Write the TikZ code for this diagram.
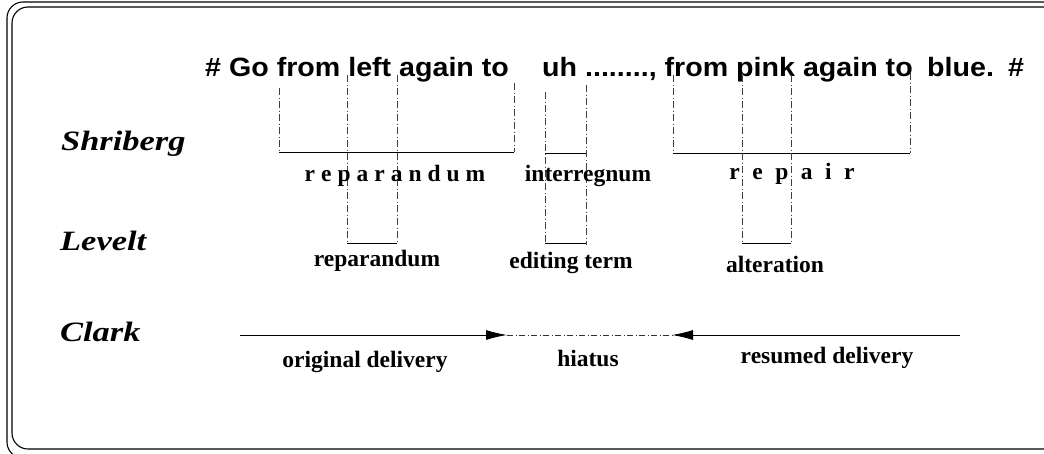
\documentclass[tikz,border=0pt]{standalone}
\usepackage{fontspec}
\setmainfont{Liberation Serif}
\setsansfont{Liberation Sans}
\usetikzlibrary{arrows.meta}

% horizontal stretch of a piece of text
\newcommand{\wide}[2]{\scalebox{#1}[1]{#2}}

\tikzset{
  frame/.style={draw=black, line width=1.1pt, rounded corners=16pt},
  guide/.style={draw=black!75, line width=0.85pt, dash pattern=on 7pt off 2.5pt on 1pt off 2.5pt},
  bar/.style={draw=black, line width=0.9pt},
  sent/.style={font=\sffamily\bfseries\fontsize{26.5}{30}\selectfont, anchor=base west, inner sep=0pt},
  who/.style={font=\bfseries\itshape\fontsize{28}{32}\selectfont, anchor=base west, inner sep=0pt},
  lbl/.style={font=\bfseries\fontsize{23.5}{27}\selectfont, anchor=base, inner sep=0pt},
  flow/.style={draw=black, line width=0.9pt, -{Latex[length=21pt,width=10pt]}},
  pause/.style={draw=black!80, line width=0.85pt, dash pattern=on 6pt off 2.5pt on 1pt off 2.5pt},
}

\begin{document}
\begin{tikzpicture}[x=1pt,y=-1pt]
\useasboundingbox (0,0) rectangle (1044,453);

% double rounded frame
\draw[frame] (7,2) rectangle (1064,458);
\draw[frame] (12,7) rectangle (1059,449);

% the utterance
\node[sent] (s1) at (205,76) {\wide{1.08}{\# Go from left again to}};
\node[sent] (s2) at (542,76) {\wide{1.08}{uh ........, from pink again to}};
\node[sent] (s3) at (927,76) {\wide{1.08}{blue.}};
\node[sent] (s4) at (1008,76) {\wide{1.08}{\#}};

% the three analyses
\node[who] (shr) at (61,150) {\wide{1.23}{Shriberg}};
\node[who] (lev) at (60,250) {\wide{1.23}{Levelt}};
\node[who] (clk) at (60,341) {\wide{1.23}{Clark}};

% Shriberg: reparandum span
\coordinate (rpL) at (279,88);  \coordinate (rpLb) at (279,152);
\coordinate (rpR) at (514,83);  \coordinate (rpRb) at (514,152);
\draw[guide] (rpL) -- (rpLb);
\draw[guide] (rpR) -- (rpRb);
\draw[bar] (rpLb) -- (rpRb);

% Levelt: reparandum span
\coordinate (lvL) at (347,75);  \coordinate (lvLb) at (347,243);
\coordinate (lvR) at (397,75);  \coordinate (lvRb) at (397,243);
\draw[guide] (lvL) -- (lvLb);
\draw[guide] (lvR) -- (lvRb);
\draw[bar] (lvLb) -- (lvRb);

% interregnum / editing term
\coordinate (inL) at (545,92);  \coordinate (inLm) at (545,153); \coordinate (inLb) at (545,243);
\coordinate (inR) at (586,85);  \coordinate (inRm) at (586,153); \coordinate (inRb) at (586,245);
\draw[guide] (inL) -- (inLb);
\draw[guide] (inR) -- (inRb);
\draw[bar] (inLm) -- (inRm);
\draw[bar] (inLb) -- (inRb |- inLb);

% Shriberg: repair span
\coordinate (rrL) at (673,75);  \coordinate (rrLb) at (673,153);
\coordinate (rrR) at (910,73);  \coordinate (rrRb) at (910,153);
\draw[guide] (rrL) -- (rrLb);
\draw[guide] (rrR) -- (rrRb);
\draw[bar] (rrLb) -- (rrRb);

% Levelt: alteration span
\coordinate (alL) at (742,75);  \coordinate (alLb) at (742,243);
\coordinate (alR) at (791,75);  \coordinate (alRb) at (791,243);
\draw[guide] (alL) -- (alLb);
\draw[guide] (alR) -- (alRb);
\draw[bar] (alLb) -- (alRb);

% span labels
\node[lbl] (t1) at (395,181) {r\hspace{6pt}e\hspace{6pt}p\hspace{6pt}a\hspace{6pt}r\hspace{6pt}a\hspace{6pt}n\hspace{6pt}d\hspace{6pt}u\hspace{6pt}m};
\node[lbl] (t2) at (588,181) {interregnum};
\node[lbl] (t3) at (792,179) {r\hspace{12.5pt}e\hspace{12.5pt}p\hspace{12.5pt}a\hspace{12.5pt}i\hspace{12.5pt}r};
\node[lbl] (t4) at (377,266) {reparandum};
\node[lbl] (t5) at (571,268) {editing term};
\node[lbl] (t6) at (775,272) {alteration};

% Clark: delivery and hiatus
\coordinate (odA) at (240,335);
\coordinate (odB) at (507,335);
\coordinate (rdA) at (960,335);
\coordinate (rdB) at (672,335);
\draw[flow] (odA) -- (odB);
\draw[pause] (odB) -- (rdB);
\draw[flow] (rdA) -- (rdB);

\node[lbl] (c1) at (365,367) {original delivery};
\node[lbl] (c2) at (588,366) {hiatus};
\node[lbl] (c3) at (827,363) {resumed delivery};
\end{tikzpicture}
\end{document}
